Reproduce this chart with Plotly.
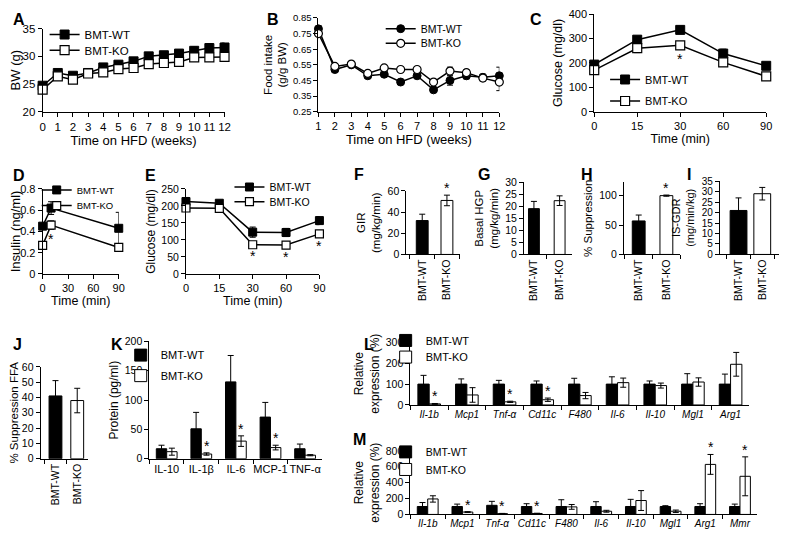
import plotly.graph_objects as go

# page is drawn with the browser's default 8px body margin
OX, OY = 8, 8
FW, FH = 783, 531
FONT = "Liberation Sans, Arial, Helvetica, sans-serif"

# ---------------- data ----------------
# A  body weight
weeks_a = [0, 1, 2, 3, 4, 5, 6, 7, 8, 9, 10, 11, 12]
bw_wt = [24.7, 27.0, 26.5, 27.0, 28.0, 28.5, 29.1, 30.0, 30.2, 30.5, 31.0, 31.5, 31.6]
bw_wt_err = [0.3, 0.3, 0.3, 0.3, 0.3, 0.4, 0.5, 0.6, 0.6, 0.6, 0.7, 0.8, 0.8]
bw_ko = [24.0, 26.4, 25.8, 26.9, 27.1, 27.7, 27.9, 28.6, 28.8, 29.0, 29.8, 29.8, 29.9]
bw_ko_err = [0.3, 0.3, 0.4, 0.3, 0.3, 0.3, 0.4, 0.5, 0.5, 0.5, 0.6, 0.6, 0.6]

# B  food intake
weeks_b = [1, 2, 3, 4, 5, 6, 7, 8, 9, 10, 11, 12]
fi_wt = [0.78, 0.52, 0.55, 0.48, 0.49, 0.44, 0.48, 0.39, 0.45, 0.48, 0.47, 0.48]
fi_wt_err = [0.02, 0.01, 0.01, 0.01, 0.015, 0.01, 0.01, 0.01, 0.03, 0.02, 0.02, 0.055]
fi_ko = [0.75, 0.54, 0.555, 0.495, 0.53, 0.52, 0.52, 0.44, 0.51, 0.50, 0.465, 0.44]
fi_ko_err = [0.01, 0.01, 0.01, 0.01, 0.015, 0.01, 0.01, 0.01, 0.025, 0.02, 0.02, 0.055]

# C  GTT
gtt_time = ["0", "15", "30", "60", "90"]
gtt_wt = [193, 295, 335, 238, 188]
gtt_wt_err = [10, 10, 15, 18, 8]
gtt_ko = [170, 260, 272, 202, 145]
gtt_ko_err = [10, 18, 15, 15, 8]
gtt_star = [False, False, True, False, False]

# D  insulin
ins_time = [0, 10, 90]
ins_wt = [0.45, 0.62, 0.43]
ins_wt_err = [0.03, 0.06, 0.15]
ins_ko = [0.27, 0.46, 0.25]
ins_ko_err = [0.03, 0.04, 0.03]
ins_star = [False, True, False]

# E  ITT
itt_time = ["0", "15", "30", "60", "90"]
itt_wt = [213, 208, 123, 122, 157]
itt_wt_err = [12, 8, 15, 12, 12]
itt_ko = [194, 193, 86, 85, 118]
itt_ko_err = [5, 5, 5, 5, 5]
itt_star = [False, False, True, True, True]

# F-J  clamp studies
groups = ["BMT-WT", "BMT-KO"]
gir = [32, 51]
gir_err = [6, 5]
gir_star = [False, True]
hgp = [19, 22.3]
hgp_err = [3, 2]
hgp_star = [False, False]
supp = [57, 100]
supp_err = [10, 1]
supp_star = [False, True]
isgdr = [21, 29]
isgdr_err = [6, 3]
isgdr_star = [False, False]
ffa = [41, 38]
ffa_err = [10, 8]
ffa_star = [False, False]

# K  serum protein
cytokines = ["IL-10", "IL-1β", "IL-6", "MCP-1", "TNF-α"]
prot_wt = [17, 51, 131, 71, 17]
prot_wt_err = [6, 28, 45, 25, 8]
prot_ko = [12, 8, 30, 19, 6]
prot_ko_err = [6, 2, 9, 4, 1]
prot_star = [False, True, True, True, False]

# L  gene expression
genes_l = ["Il-1b", "Mcp1", "Tnf-α", "Cd11c", "F480", "Il-6", "Il-10", "Mgl1", "Arg1"]
l_wt = [100, 100, 100, 100, 100, 100, 100, 100, 100]
l_wt_err = [42, 25, 18, 15, 28, 35, 15, 50, 48]
l_ko = [5, 48, 15, 25, 45, 107, 93, 110, 195]
l_ko_err = [2, 35, 3, 8, 15, 22, 12, 20, 57]
l_star = [True, False, True, True, False, False, False, False, False]

# M  gene expression
genes_m = ["Il-1b", "Mcp1", "Tnf-α", "Cd11c", "F480", "Il-6", "Il-10", "Mgl1", "Arg1", "Mmr"]
m_wt = [100, 100, 115, 100, 100, 100, 100, 100, 100, 100]
m_wt_err = [50, 30, 50, 35, 85, 60, 90, 10, 35, 30]
m_ko = [195, 30, 10, 12, 95, 40, 175, 40, 630, 480]
m_ko_err = [40, 5, 3, 3, 30, 12, 125, 15, 125, 245]
m_star = [False, True, True, True, False, False, False, False, True, True]

panel_letters = ["A", "B", "C", "D", "E", "F", "G", "H", "I", "J", "K", "L", "M"]


# ---------------- helpers ----------------
def clamp(v):
    return min(1.0, max(0.0, v))


def dx(a, b):
    return [clamp((a - OX) / FW), clamp((b - OX) / FW)]


def dy(top, bot):
    return [clamp(1 - (bot - OY) / FH), clamp(1 - (top - OY) / FH)]


def tf(size, **kw):
    d = dict(family=FONT, size=size, color="#000000")
    d.update(kw)
    return d


def ax(**kw):
    d = dict(showline=True, linecolor="black", linewidth=1, ticks="outside", ticklen=4,
             tickwidth=1, tickcolor="black", showgrid=False, zeroline=False, fixedrange=True,
             tickangle=0, tickfont=tf(11))
    d.update(kw)
    return d


def ttl(text, size=12.5, standoff=None):
    d = dict(text=text, font=tf(size))
    if standoff is not None:
        d["standoff"] = standoff
    return d


def ref(i):
    return ("x" if i == 1 else f"x{i}"), ("y" if i == 1 else f"y{i}")


def key(i):
    return ("xaxis" if i == 1 else f"xaxis{i}"), ("yaxis" if i == 1 else f"yaxis{i}")


fig = go.Figure()
layout = {}
annotations = []
legend_count = [0]


def new_legend(x_text, y_center, size):
    legend_count[0] += 1
    n = legend_count[0]
    name = "legend" if n == 1 else f"legend{n}"
    layout[name] = dict(x=(x_text - 46 - OX) / FW, y=1 - (y_center - OY) / FH,
                        xanchor="left", yanchor="middle", bgcolor="rgba(0,0,0,0)",
                        borderwidth=0, font=tf(size))
    return name


def star(i, k, y, above=True, size=14, xshift=0):
    xr, yr = ref(i)
    annotations.append(dict(x=k, y=y, xref=xr, yref=yr, text="*", showarrow=False,
                            yanchor="bottom" if above else "top", xshift=xshift,
                            yshift=-3 if above else 0, font=tf(size)))


def err(arr):
    return dict(type="data", array=arr, visible=True, color="black", thickness=1, width=3)


def line_pair(i, x, wt, wte, ko, koe, leg_wt, leg_ko, symbol="square", msize=9):
    xr, yr = ref(i)
    fig.add_trace(go.Scatter(x=x, y=wt, error_y=err(wte), name="BMT-WT", xaxis=xr, yaxis=yr,
                             mode="lines+markers", cliponaxis=False, legend=leg_wt,
                             line=dict(color="black", width=1.5),
                             marker=dict(symbol=symbol, size=msize, color="black",
                                         line=dict(color="black", width=1))))
    fig.add_trace(go.Scatter(x=x, y=ko, error_y=err(koe), name="BMT-KO", xaxis=xr, yaxis=yr,
                             mode="lines+markers", cliponaxis=False, legend=leg_ko,
                             line=dict(color="black", width=1.5),
                             marker=dict(symbol=symbol, size=msize, color="white",
                                         line=dict(color="black", width=1.2))))


# ---------------- A ----------------
line_pair(1, weeks_a, bw_wt, bw_wt_err, bw_ko, bw_ko_err,
          new_legend(88, 29, 11.5), new_legend(88, 45, 11.5))
layout["xaxis"] = ax(domain=dx(40, 224), anchor="y", range=[0, 12], tickvals=weeks_a,
                     tickfont=tf(11.5), title=ttl("Time on HFD (weeks)", 13, 0))
layout["yaxis"] = ax(domain=dy(23, 108), anchor="x", range=[20, 35], dtick=5,
                     tickfont=tf(11.5), title=ttl("BW (g)", 13, 4))

# ---------------- B ----------------
line_pair(2, weeks_b, fi_wt, fi_wt_err, fi_ko, fi_ko_err,
          new_legend(428, 23, 10.5), new_legend(428, 38, 10.5), symbol="circle", msize=8)
layout["xaxis2"] = ax(domain=dx(319, 502), anchor="y2", range=[1, 12], tickvals=weeks_b,
                      tickfont=tf(11), title=ttl("Time on HFD (weeks)", 13, 0))
layout["yaxis2"] = ax(domain=dy(12, 108), anchor="x2", range=[0.25, 0.85],
                      tickvals=[0.25, 0.35, 0.45, 0.55, 0.65, 0.75, 0.85], tickformat=".2f",
                      tickfont=tf(9.5), title=ttl("Food intake<br>(g/g BW)", 11.5, 3))

# ---------------- C ----------------
line_pair(3, gtt_time, gtt_wt, gtt_wt_err, gtt_ko, gtt_ko_err,
          new_legend(655, 75, 11), new_legend(655, 97, 11), msize=9)
layout["xaxis3"] = ax(domain=dx(598, 772), anchor="y3", type="category", range=[0, 4],
                      categoryorder="array", categoryarray=gtt_time,
                      tickfont=tf(11), title=ttl("Time (min)", 12.5, 0))
layout["yaxis3"] = ax(domain=dy(8, 108), anchor="x3", range=[0, 400], dtick=100,
                      tickfont=tf(11), title=ttl("Glucose (mg/dl)", 12.5, 3))
for k, s in enumerate(gtt_star):
    if s:
        star(3, k, gtt_ko[k] - gtt_ko_err[k], above=False)

# ---------------- D ----------------
line_pair(4, ins_time, ins_wt, ins_wt_err, ins_ko, ins_ko_err,
          new_legend(80, 188, 9.5), new_legend(80, 204, 9.5), msize=8)
layout["xaxis4"] = ax(domain=dx(40, 117), anchor="y4", range=[0, 90], tickvals=[0, 30, 60, 90],
                      tickfont=tf(11), title=ttl("Time (min)", 12.5, 0))
layout["yaxis4"] = ax(domain=dy(187, 274), anchor="x4", range=[0, 0.8], dtick=0.2,
                      tickfont=tf(11), title=ttl("Insulin (ng/ml)", 13, 3))
for k, s in enumerate(ins_star):
    if s:
        star(4, ins_time[k], ins_ko[k] - ins_ko_err[k], above=False)

# ---------------- E ----------------
line_pair(5, itt_time, itt_wt, itt_wt_err, itt_ko, itt_ko_err,
          new_legend(275, 185, 10.5), new_legend(275, 200, 10.5), msize=8)
layout["xaxis5"] = ax(domain=dx(185, 320), anchor="y5", type="category", range=[0, 4],
                      categoryorder="array", categoryarray=itt_time,
                      tickfont=tf(11), title=ttl("Time (min)", 12.5, 0))
layout["yaxis5"] = ax(domain=dy(187, 274), anchor="x5", range=[0, 250], dtick=50,
                      tickfont=tf(10.5), title=ttl("Glucose (mg/dl)", 12, 3))
for k, s in enumerate(itt_star):
    if s:
        star(5, k, itt_ko[k] - itt_ko_err[k], above=False)

# ---------------- F-J single bar panels ----------------
single = [
    # panel, values, errs, stars, axis-left, WT centre, KO centre, axis-right, top, bottom,
    # y range, dtick, title, title size, bar px, automargin
    (6, gir, gir_err, gir_star, 408, 424, 449, 462, 189, 254, [0, 60], 20, "GIR<br>(mg/kg/min)", 11.5, 12, False),
    (7, hgp, hgp_err, hgp_star, 527, 537, 563, 576, 180, 254, [0, 30], 5, "Basal HGP<br>(mg/kg/min)", 11.5, 11, False),
    (8, supp, supp_err, supp_star, 628, 643, 671, 685, 180, 254, [0, 123], 50, "% Suppression", 11.5, 13, False),
    (9, isgdr, isgdr_err, isgdr_star, 725, 744, 768, 785, 179, 254, [0, 35], 5, "IS-GDR<br>(mg/min/kg)", 11, 17, True),
    (10, ffa, ffa_err, ffa_star, 38, 53, 75, 86, 369, 463, [0, 60], 10, "% Suppression FFA", 11.5, 13, False),
]
for (i, vals, errs, stars, L, c1, c2, R, top, bot, yrng, dt, title, tsize, bpx, am) in single:
    xr, yr = ref(i)
    unit = c2 - c1
    bw = bpx / unit
    fig.add_trace(go.Bar(x=groups, y=vals, error_y=err(errs), xaxis=xr, yaxis=yr,
                         width=bw, offset=-bw / 2, showlegend=False,
                         marker=dict(color=["black", "white"], line=dict(color="black", width=1))))
    xk, yk = key(i)
    layout[xk] = ax(domain=dx(L, R), anchor=yr, type="category",
                    range=[-(c1 - L) / unit, 1 + (R - c2) / unit], tickson="boundaries",
                    tickangle=-90, tickfont=tf(10.5))
    ykw = dict(domain=dy(top, bot), anchor=xr, range=yrng, dtick=dt,
               tickfont=tf(10.5 if not am else 10), title=ttl(title, tsize, 4))
    if am:
        ykw["automargin"] = True
    layout[yk] = ax(**ykw)
    for k, s in enumerate(stars):
        if s:
            star(i, k, vals[k] + errs[k], above=True)


# ---------------- grouped bar panels ----------------
def bar_pair(i, cats, wt, wte, ko, koe, leg_wt, leg_ko, w=0.3):
    xr, yr = ref(i)
    fig.add_trace(go.Bar(x=cats, y=wt, error_y=err(wte), name="BMT-WT", xaxis=xr, yaxis=yr,
                         width=w, offset=-w, legend=leg_wt,
                         marker=dict(color="black", line=dict(color="black", width=1))))
    fig.add_trace(go.Bar(x=cats, y=ko, error_y=err(koe), name="BMT-KO", xaxis=xr, yaxis=yr,
                         width=w, offset=0, legend=leg_ko,
                         marker=dict(color="white", line=dict(color="black", width=1))))


# K
bar_pair(11, cytokines, prot_wt, prot_wt_err, prot_ko, prot_ko_err,
         new_legend(165, 357, 11), new_legend(165, 378, 11))
layout["xaxis11"] = ax(domain=dx(148, 323), anchor="y11", type="category", range=[-0.5, 4.5],
                       tickson="boundaries", tickfont=tf(11))
layout["yaxis11"] = ax(domain=dy(343, 463), anchor="x11", range=[0, 200], dtick=50,
                       tickfont=tf(10.5), title=ttl("Protein (pg/ml)", 12, 3))
for k, s in enumerate(prot_star):
    if s:
        star(11, k, prot_ko[k] + prot_ko_err[k], above=True, xshift=0.15 * 35)

# L
bar_pair(12, genes_l, l_wt, l_wt_err, l_ko, l_ko_err,
         new_legend(433, 342, 11), new_legend(433, 359, 11))
layout["xaxis12"] = ax(domain=dx(412, 755), anchor="y12", type="category", range=[-0.5, 8.5],
                       tickson="boundaries", tickfont=tf(10, style="italic"))
layout["yaxis12"] = ax(domain=dy(344, 408), anchor="x12", range=[0, 300], dtick=100,
                       tickfont=tf(10.5), title=ttl("Relative<br>expression (%)", 12, 3))
for k, s in enumerate(l_star):
    if s:
        star(12, k, l_ko[k] + l_ko_err[k], above=True, xshift=0.15 * 38.1)

# M
bar_pair(13, genes_m, m_wt, m_wt_err, m_ko, m_ko_err,
         new_legend(433, 456, 10.5), new_legend(433, 474, 10.5))
layout["xaxis13"] = ax(domain=dx(412, 763), anchor="y13", type="category", range=[-0.5, 9.5],
                       tickson="boundaries", tickfont=tf(10, style="italic"))
layout["yaxis13"] = ax(domain=dy(455, 520), anchor="x13", range=[0, 800], dtick=200,
                       tickfont=tf(10.5), title=ttl("Relative<br>expression (%)", 12, 3))
for k, s in enumerate(m_star):
    if s:
        star(13, k, m_ko[k] + m_ko_err[k], above=True, xshift=0.15 * 35.1)

# ---------------- panel letters ----------------
letter_pos = [(8, 3), (265, 3), (531, 3), (8, 163), (142, 163), (353, 161), (478, 161),
              (583, 161), (690, 161), (8, 335), (107, 335), (363, 335), (352, 433)]
for lt, (px, py) in zip(panel_letters, letter_pos):
    annotations.append(dict(x=(px - OX) / FW, y=1 - (py - OY) / FH, xref="paper", yref="paper",
                            text=f"<b>{lt}</b>", showarrow=False, xanchor="left", yanchor="top",
                            font=tf(16)))

layout.update(dict(width=FW, height=FH, margin=dict(l=0, r=0, t=0, b=0),
                   paper_bgcolor="white", plot_bgcolor="white", barmode="group",
                   font=dict(family=FONT, color="black"), annotations=annotations))
fig.update_layout(**layout)
fig.write_html("out.html", config={"displayModeBar": False})
